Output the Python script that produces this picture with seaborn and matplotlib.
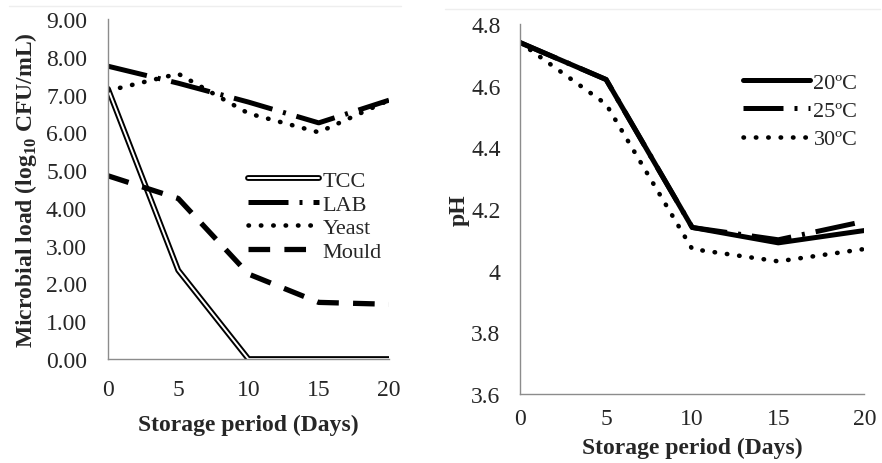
import matplotlib
matplotlib.use("Agg")
import matplotlib.pyplot as plt
import matplotlib.patheffects as pe
from matplotlib.ticker import FuncFormatter
from matplotlib.lines import Line2D
import seaborn as sns

# data
days = [0, 5, 10, 15, 20]

tcc = [7.15, 2.35, 0.0, 0.0, 0.0]
lab = [7.75, 7.3, 6.8, 6.25, 6.85]
yeast = [7.1, 7.55, 6.5, 6.0, 6.85]
mould = [4.85, 4.25, 2.25, 1.5, 1.45]

ph_20 = [4.74, 4.62, 4.14, 4.09, 4.13]
ph_25 = [4.74, 4.62, 4.14, 4.10, 4.16]
ph_30 = [4.74, 4.54, 4.07, 4.03, 4.07]

sns.set_style("white")
plt.rcParams["font.family"] = ["Liberation Serif", "DejaVu Serif"]
plt.rcParams["mathtext.fontset"] = "custom"
plt.rcParams["mathtext.rm"] = "Liberation Serif"
plt.rcParams["mathtext.bf"] = "Liberation Serif:bold"

fig = plt.figure(figsize=(8.82, 4.64), dpi=100)
ax1 = fig.add_axes([0.1224, 0.224, 0.3186, 0.733])
ax2 = fig.add_axes([0.5896, 0.149, 0.3904, 0.797])

dashdot = (0, (8, 2.2, 0.6, 2.2))
dotted = (0, (0.1, 2.6))
dashed = (0, (4.1, 2.7))

# left panel
sns.lineplot(x=days, y=tcc, ax=ax1, color="white", lw=1.4, label="TCC",
             path_effects=[pe.Stroke(linewidth=4.2, foreground="black"), pe.Normal()])
sns.lineplot(x=days, y=lab, ax=ax1, color="black", lw=3.6, linestyle=dashdot,
             label="LAB", dash_capstyle="butt")
sns.lineplot(x=days, y=yeast, ax=ax1, color="black", lw=3.3, linestyle=dotted,
             label="Yeast", dash_capstyle="round")
sns.lineplot(x=days, y=mould, ax=ax1, color="black", lw=3.8, linestyle=dashed,
             label="Mould", dash_capstyle="butt")

ax1.set_xlim(0, 20)
ax1.set_ylim(0, 9)
ax1.set_xticks(days)
ax1.set_yticks([0, 1, 2, 3, 4, 5, 6, 7, 8, 9])
ax1.yaxis.set_major_formatter(FuncFormatter(lambda v, p: f"{v:.2f}"))
ax1.set_xlabel("Storage period (Days)", fontsize=17, fontweight="bold", labelpad=10)
ax1.set_ylabel(r"Microbial load (log$_{\mathbf{10}}$ CFU/mL)", fontsize=17,
               fontweight="bold", labelpad=5)
ax1.legend(loc="upper left", bbox_to_anchor=(0.498, 0.555), frameon=False,
           fontsize=16, handlelength=3.2, handletextpad=0.15, labelspacing=0.14,
           borderaxespad=0, borderpad=0)
ax1.tick_params(axis="x", length=0, pad=14, labelsize=17)
ax1.tick_params(axis="y", length=0, pad=15, labelsize=17)

# right panel
sns.lineplot(x=days, y=ph_20, ax=ax2, color="black", lw=3.6, label="20ºC")
sns.lineplot(x=days, y=ph_25, ax=ax2, color="black", lw=3.6, linestyle=dashdot,
             label="25ºC", dash_capstyle="butt")
sns.lineplot(x=days, y=ph_30, ax=ax2, color="black", lw=3.3, linestyle=dotted,
             label="30ºC", dash_capstyle="round")

ax2.set_xlim(0, 20)
ax2.set_ylim(3.6, 4.8)
ax2.set_xticks(days)
ax2.set_yticks([3.6, 3.8, 4.0, 4.2, 4.4, 4.6, 4.8])
ax2.yaxis.set_major_formatter(FuncFormatter(lambda v, p: f"{v:g}"))
ax2.set_xlabel("Storage period (Days)", fontsize=17, fontweight="bold", labelpad=6)
ax2.set_ylabel("pH", fontsize=17, fontweight="bold", labelpad=1)
ax2.legend(loc="upper right", bbox_to_anchor=(0.98, 0.869), frameon=False,
           fontsize=16, handlelength=3.0, handletextpad=0.15, labelspacing=0.34,
           borderaxespad=0, borderpad=0)
ax2.tick_params(axis="x", length=0, pad=10, labelsize=17)
ax2.tick_params(axis="y", length=0, pad=14, labelsize=17)

for ax in (ax1, ax2):
    sns.despine(ax=ax)
    for s in ("left", "bottom"):
        ax.spines[s].set_color("#8c8c8c")
        ax.spines[s].set_linewidth(1.0)

# faint frame lines at the top of each panel
fig.add_artist(Line2D([0.01, 0.455], [0.985, 0.985], color="#eeeeee", lw=1.0,
                      transform=fig.transFigure))
fig.add_artist(Line2D([0.505, 0.998], [0.978, 0.978], color="#eeeeee", lw=1.0,
                      transform=fig.transFigure))

fig.savefig("out.png", dpi=100)
